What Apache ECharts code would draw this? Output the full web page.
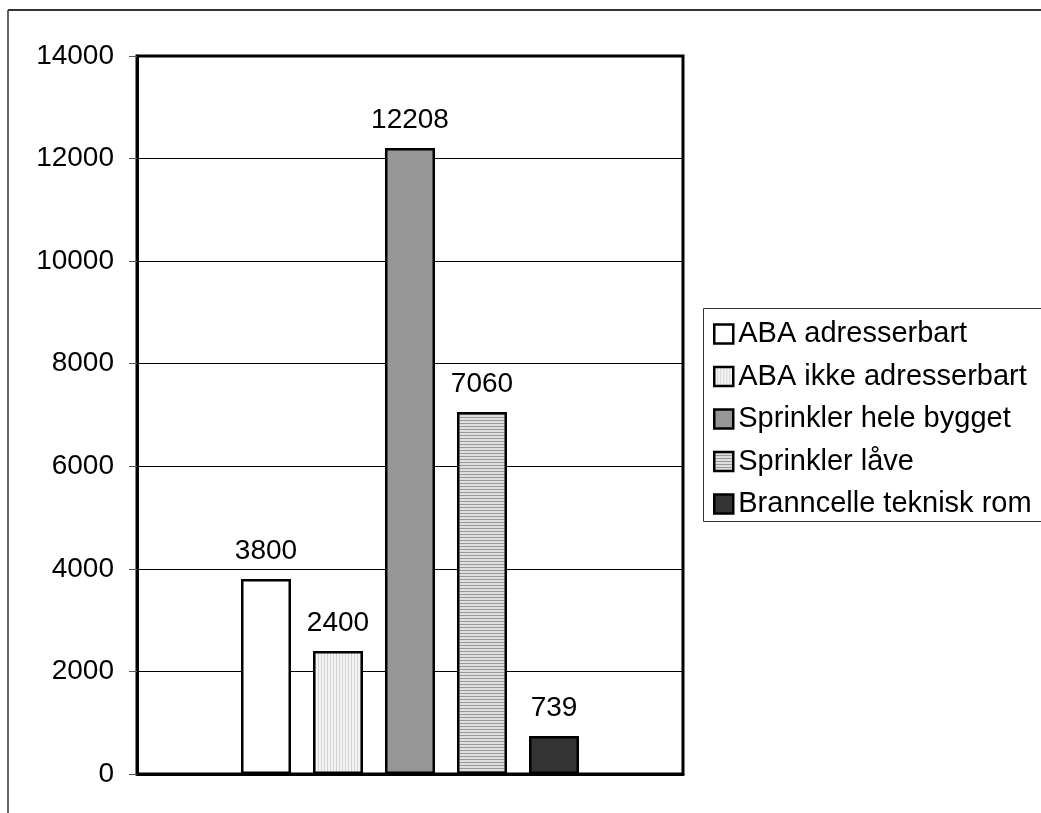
<!DOCTYPE html>
<html>
<head>
<meta charset="utf-8">
<script src="https://cdn.jsdelivr.net/npm/echarts@6/dist/echarts.min.js"></script>
<style>
  html, body { margin: 0; padding: 0; background: #fff; }
  #chart { width: 1041px; height: 813px; }
</style>
</head>
<body>
<div id="chart"></div>
<script>
// Kostnader per tiltak
const categories = [''];
const seriesNames = [
  'ABA adresserbart',
  'ABA ikke adresserbart',
  'Sprinkler hele bygget',
  'Sprinkler låve',
  'Branncelle teknisk rom'
];
const seriesValues = [3800, 2400, 12208, 7060, 739];
const yTicks = { min: 0, max: 14000, interval: 2000 };

// Stripe fills drawn on small canvases and tiled
function stripes(vertical, bg, fg) {
  const c = document.createElement('canvas');
  c.width = 3; c.height = 3;
  const g = c.getContext('2d');
  g.fillStyle = bg; g.fillRect(0, 0, 3, 3);
  g.fillStyle = fg;
  if (vertical) g.fillRect(0, 0, 1, 3); else g.fillRect(0, 0, 3, 1);
  return { image: c, repeat: 'repeat' };
}

const fills = [
  '#ffffff',
  stripes(true, '#f4f4f4', '#d4d4d4'),
  '#969696',
  stripes(false, '#dedede', '#9a9a9a'),
  '#333333'
];

const FONT = 'Liberation Sans, Arial, sans-serif';

const chart = echarts.init(document.getElementById('chart'), null, { renderer: 'canvas' });

const series = seriesNames.map((name, i) => ({
  name: name,
  type: 'bar',
  data: [seriesValues[i]],
  barWidth: 50,
  barGap: '44%',
  itemStyle: { color: fills[i], borderColor: '#000', borderWidth: 2.5 },
  label: {
    show: true,
    position: 'top',
    distance: 14,
    color: '#000',
    fontFamily: FONT,
    fontSize: 28
  },
  emphasis: { disabled: true }
}));

chart.setOption({
  animation: false,
  backgroundColor: '#fff',
  grid: {
    left: 137, top: 56, right: 358, bottom: 39,
    show: true, borderColor: '#000', borderWidth: 3, backgroundColor: 'transparent'
  },
  xAxis: {
    type: 'category',
    data: categories,
    axisLine: { show: true, lineStyle: { color: '#000', width: 3 } },
    axisTick: { show: false },
    axisLabel: { show: false }
  },
  yAxis: {
    type: 'value',
    min: yTicks.min, max: yTicks.max, interval: yTicks.interval,
    axisLine: { show: true, lineStyle: { color: '#000', width: 3 } },
    axisTick: { show: true, length: 8, lineStyle: { color: '#555', width: 1 } },
    axisLabel: {
      color: '#000', fontFamily: FONT, fontSize: 28, margin: 23,
      formatter: v => String(v)
    },
    splitLine: { show: true, lineStyle: { color: '#000', width: 1 } }
  },
  legend: {
    orient: 'vertical',
    left: 713,
    top: 319,
    padding: 0,
    itemWidth: 19,
    itemHeight: 19,
    itemGap: 12.5,
    icon: 'rect',
    selectedMode: false,
    itemStyle: { borderWidth: 2.5 },
    textStyle: { color: '#000', fontFamily: FONT, fontSize: 29, lineHeight: 30 },
    data: seriesNames
  },
  graphic: [
    // outer frame (left and top edges)
    { type: 'line', shape: { x1: 8, y1: 10, x2: 1041, y2: 10 }, style: { stroke: '#333', lineWidth: 2 } },
    { type: 'line', shape: { x1: 8, y1: 10, x2: 8, y2: 813 }, style: { stroke: '#333', lineWidth: 1.5 } },
    // legend box
    { type: 'rect', shape: { x: 703.5, y: 308.5, width: 345, height: 213 }, style: { fill: 'none', stroke: '#333', lineWidth: 1 }, z: -1 }
  ],
  series: series
});
</script>
</body>
</html>
